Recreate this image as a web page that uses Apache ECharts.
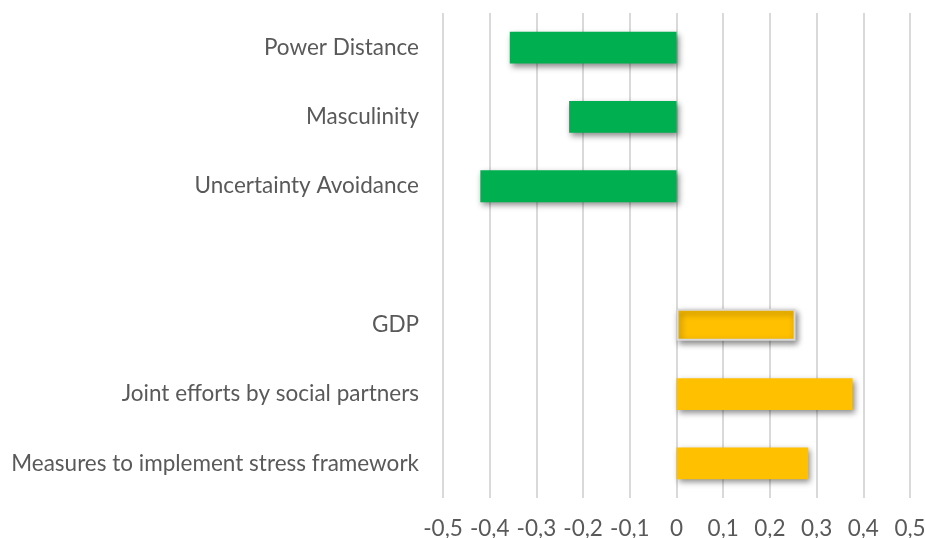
<!DOCTYPE html>
<html lang="en" style="height: 100%;width: 100%">
<head>
    <meta charset="utf-8">
</head>
<body style="height: 100%;width: 100%; margin: 0; background: #fff">
<div id="container" style="height: 100%;width: 100%;"></div>
<script type="text/javascript" src="https://cdn.jsdelivr.net/npm/echarts@6/dist/echarts.min.js"></script>
<script type="text/javascript">
    // categories top to bottom, '' is the blank row between groups
    var categories = ['Power Distance', 'Masculinity', 'Uncertainty Avoidance', '', 'GDP',
        'Joint efforts by social partners', 'Measures to implement stress framework'];
    var values = [-0.357, -0.23, -0.42, null, 0.255, 0.377, 0.282];
    var xTicks = { min: -0.5, max: 0.5, step: 0.1 };

    var myChart = echarts.init(document.getElementById('container'), null, { renderer: 'canvas' });

    var barData = values.map(function (v, i) {
        if (v === null) return null;
        var item = {
            value: v,
            itemStyle: {
                color: v < 0 ? '#00b050' : '#ffc000',
                shadowColor: 'rgba(0,0,0,0.45)',
                shadowBlur: 6,
                shadowOffsetX: 2,
                shadowOffsetY: 3
            }
        };
        if (categories[i] === 'GDP') {
            item.itemStyle.borderColor = '#d9d9d9';
            item.itemStyle.borderWidth = 2;
        }
        return item;
    });

    var option = {
        animation: false,
        grid: { left: 443, right: 15, top: 13, bottom: 40, outerBoundsMode: 'none' },
        xAxis: {
            type: 'value',
            min: xTicks.min,
            max: xTicks.max,
            interval: xTicks.step,
            axisLine: { show: false },
            axisTick: { show: false },
            splitLine: { show: true, lineStyle: { color: '#d9d9d9', width: 2 } },
            axisLabel: {
                color: '#595959',
                fontFamily: 'Lato',
                fontSize: 22.5,
                margin: 19.5,
                formatter: function (v) {
                    var r = Math.round(v * 10) / 10;
                    return r === 0 ? '0' : r.toFixed(1).replace('.', ',');
                }
            }
        },
        yAxis: {
            type: 'category',
            inverse: true,
            data: categories,
            axisLine: { show: false },
            axisTick: { show: false },
            splitLine: { show: false },
            axisLabel: {
                color: '#595959',
                fontFamily: 'Lato',
                fontSize: 22.5,
                margin: 24
            }
        },
        series: [{
            type: 'bar',
            data: barData,
            barWidth: '46%'
        }]
    };
    myChart.setOption(option);
</script>
</body>
</html>
